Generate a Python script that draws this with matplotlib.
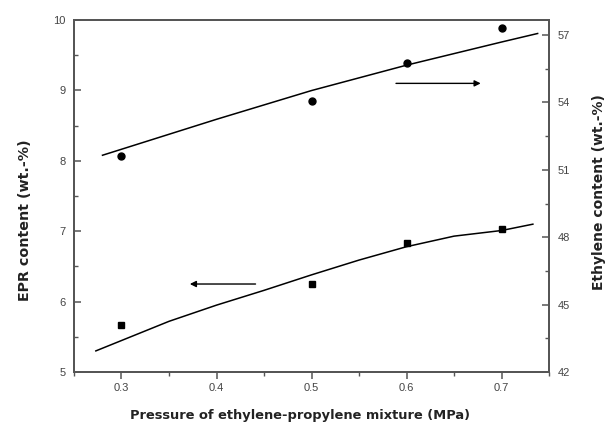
import matplotlib
matplotlib.use("Agg")
import matplotlib.pyplot as plt
from matplotlib.ticker import MultipleLocator

plt.rcParams["font.family"] = ["Liberation Sans", "DejaVu Sans"]

# Data
pressure = [0.3, 0.5, 0.6, 0.7]
epr_content = [5.67, 6.25, 6.83, 7.03]            # left axis, squares
ethylene_content = [51.63, 54.05, 55.74, 57.30]  # right axis, circles

# Fitted curves
epr_fit_x = [0.273, 0.35, 0.4, 0.45, 0.5, 0.55, 0.6, 0.65, 0.7, 0.733]
epr_fit_y = [5.30, 5.72, 5.95, 6.16, 6.38, 6.59, 6.78, 6.93, 7.01, 7.10]
eth_fit_x = [0.28, 0.4, 0.5, 0.6, 0.7, 0.738]
eth_fit_y = [51.65, 53.25, 54.53, 55.66, 56.69, 57.07]

fig = plt.figure(figsize=(6.07, 4.24), dpi=100)
ax = fig.add_axes([0.1219, 0.1226, 0.9045 - 0.1219, 0.9528 - 0.1226])
ax2 = ax.twinx()

spine_col = "#555555"
lab_col = "#444444"

ax.set_xlim(0.25, 0.75)
ax.set_ylim(5, 10)
ax2.set_ylim(42, 57.67)

ax.plot(epr_fit_x, epr_fit_y, color="black", lw=1.1)
ax.plot(pressure, epr_content, ls="none", marker="s", ms=5, color="black")
ax2.plot(eth_fit_x, eth_fit_y, color="black", lw=1.1)
ax2.plot(pressure, ethylene_content, ls="none", marker="o", ms=5, color="black")

# arrows
ax.annotate("", xy=(0.369, 6.25), xytext=(0.444, 6.25),
            arrowprops=dict(arrowstyle="-|>", color="black", lw=1.0, mutation_scale=9))
ax.annotate("", xy=(0.681, 9.10), xytext=(0.586, 9.10),
            arrowprops=dict(arrowstyle="-|>", color="black", lw=1.0, mutation_scale=9))

ax.set_xticks([0.3, 0.4, 0.5, 0.6, 0.7])
ax.set_xticklabels(["0.3", "0.4", "0.5", "0.6", "0.7"])
ax.xaxis.set_minor_locator(MultipleLocator(0.05))
ax.yaxis.set_major_locator(MultipleLocator(1))
ax.yaxis.set_minor_locator(MultipleLocator(0.5))
ax2.yaxis.set_major_locator(MultipleLocator(3))
ax2.yaxis.set_minor_locator(MultipleLocator(1.5))

for a in (ax, ax2):
    for s in a.spines.values():
        s.set_color(spine_col)
        s.set_linewidth(1.3)

ax.tick_params(axis="x", which="major", direction="out", length=5, width=1.1,
               color=spine_col, labelsize=8, labelcolor=lab_col, pad=3)
ax.tick_params(axis="x", which="minor", direction="out", length=3, width=1.0, color=spine_col)
ax.tick_params(axis="y", which="major", direction="in", length=5, width=1.1,
               color=spine_col, labelsize=8, labelcolor=lab_col, pad=6)
ax.tick_params(axis="y", which="minor", direction="in", length=3, width=1.0, color=spine_col)
ax2.tick_params(axis="y", which="major", direction="in", length=5, width=1.1,
                color=spine_col, labelsize=8, labelcolor=lab_col, pad=6)
ax2.tick_params(axis="y", which="minor", direction="in", length=3, width=1.0, color=spine_col)

ax.set_xlabel("Pressure of ethylene-propylene mixture (MPa)", fontsize=9.4,
              fontweight="bold", color="#222222", family="DejaVu Sans")
ax.xaxis.set_label_coords(0.476, -0.105)
ax.set_ylabel("EPR content (wt.-%)", fontsize=10.3, fontweight="bold",
              color="#222222", family="DejaVu Sans")
ax.yaxis.set_label_coords(-0.088, 0.43)
ax2.set_ylabel("Ethylene content (wt.-%)", fontsize=10, fontweight="bold",
               color="#222222", family="DejaVu Sans")
ax2.yaxis.set_label_coords(1.09, 0.51)

fig.savefig("out.png", dpi=100)
